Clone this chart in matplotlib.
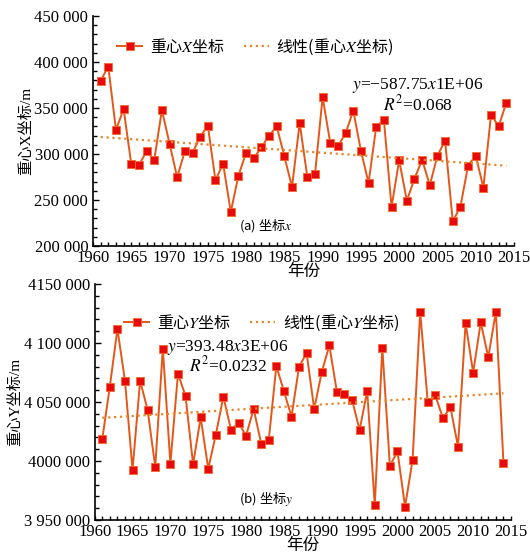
import matplotlib
matplotlib.use('Agg')
import matplotlib.pyplot as plt
import numpy as np
from matplotlib.ticker import MultipleLocator

# polices : chiffres en serif, chinois via le repli CJK
plt.rcParams['font.family'] = ['Liberation Serif', 'Noto Sans CJK SC']
plt.rcParams['mathtext.fontset'] = 'stix'
plt.rcParams['axes.unicode_minus'] = False

# données (1961-2014)
annees = list(range(1961, 2015))
coord_x = [379700, 394900, 326100, 348900, 289100, 288000, 302900, 293500, 347800, 311200,
           274600, 303300, 301100, 318800, 330800, 271400, 289500, 237000, 276400, 301400,
           295300, 307300, 319900, 330100, 297500, 264100, 333700, 275000, 277900, 362000,
           311600, 308700, 322500, 347100, 303600, 268500, 329700, 337300, 242400, 293200,
           249300, 273200, 293800, 266000, 298200, 314500, 226800, 242700, 287300, 298200,
           263400, 342700, 330100, 355800]
coord_y = [4018600, 4063000, 4111900, 4068100, 3992400, 4068100, 4042900, 3994900, 4095200, 3997700,
           4074000, 4055100, 3997200, 4037000, 3993500, 4022300, 4054500, 4026600, 4032200, 4021500,
           4044100, 4014700, 4018100, 4080500, 4059100, 4037600, 4080000, 4091300, 4044100, 4075400,
           4098000, 4058500, 4056500, 4051700, 4026300, 4059300, 3962500, 4095800, 3995800, 4008200,
           3961300, 4000800, 4126600, 4050000, 4055700, 4036400, 4045500, 4012100, 4116900, 4074900,
           4117500, 4087900, 4126600, 3998600]

ticks_x = [200000, 250000, 300000, 350000, 400000, 450000]
labels_x = ['200 000', '250 000', '300 000', '350 000', '400 000', '450 000']
ticks_y = [3950000, 4000000, 4050000, 4100000, 4150000]
labels_y = ['3 950 000', '4000 000', '4 050 000', '4 100 000', '4150 000']
annees_ticks = [1960, 1965, 1970, 1975, 1980, 1985, 1990, 1995, 2000, 2005, 2010, 2015]

couleurs = {
    'ligne': '#E4561A',
    'marqueur': '#E80A0A',
    'bord': '#F26A2C',
    'tendance': '#E8872A',
}

W, H = 530, 556
fig = plt.figure(figsize=(W / 100, H / 100), dpi=100)

# positions des axes en pixels (gauche, droite, haut, bas)
ax1 = fig.add_axes([93 / W, 1 - 246 / H, (514 - 93) / W, (246 - 16) / H])
ax2 = fig.add_axes([94.7 / W, 1 - 520 / H, (511 - 94.7) / W, (520 - 284) / H])


def tracer(ax, valeurs, nom, ticks, labels, ylim, minor, eq, r2, pos_eq, pos_leg, sous_titre, lab_x):
    x = np.array(annees)
    y = np.array(valeurs)
    ax.plot(x, y, '-s', color=couleurs['ligne'], lw=1.4, ms=5.5,
            mfc=couleurs['marqueur'], mec=couleurs['bord'], mew=0.6,
            label='重心$' + nom + '$坐标')
    a, b = np.polyfit(x, y, 1)
    ax.plot(x, a * x + b, ':', color=couleurs['tendance'], lw=1.6,
            label='线性(重心$' + nom + '$坐标)')

    ax.set_xlim(1960, 2015)
    ax.set_ylim(*ylim)
    ax.set_xticks(annees_ticks)
    ax.xaxis.set_minor_locator(MultipleLocator(1))
    ax.set_yticks(ticks, labels)
    ax.yaxis.set_minor_locator(MultipleLocator(minor))
    for s in ['top', 'right']:
        ax.spines[s].set_visible(False)
    for s in ['left', 'bottom']:
        ax.spines[s].set_linewidth(1.2)
    ax.tick_params(axis='both', which='both', direction='in', labelsize=12, width=1.0)
    ax.tick_params(axis='y', which='major', length=4)
    ax.tick_params(axis='y', which='minor', length=3)
    ax.tick_params(axis='x', which='both', length=3, pad=3)

    ax.set_xlabel('年份', fontsize=12, labelpad=-2, family='Noto Sans CJK SC')
    ax.set_ylabel('重心' + nom + '坐标/m', fontsize=11)
    ax.yaxis.set_label_coords(lab_x, 0.5)

    ax.legend(loc='center', bbox_to_anchor=pos_leg, ncol=2, frameon=False,
              prop={'family': 'Noto Sans CJK SC', 'size': 11.5},
              handlelength=1.6, columnspacing=1.2, handletextpad=0.45)
    ax.text(pos_eq[0], pos_eq[1], eq, transform=ax.transAxes, ha='center', va='center', fontsize=12.5)
    ax.text(pos_eq[0], pos_eq[2], r2, transform=ax.transAxes, ha='center', va='center', fontsize=12.5)
    ax.text(0.411, 0.09, sous_titre, transform=ax.transAxes, ha='center', va='center',
            fontsize=9.5, family='Noto Sans CJK SC')


tracer(ax1, coord_x, 'X', ticks_x, labels_x, (200000, 450000), 10000,
       r'$y$=−587.75$x$1E+06', r'$R^2$=0.068', (0.772, 0.696, 0.617),
       (0.385, 0.865), '(a) 坐标$x$', -0.143)
tracer(ax2, coord_y, 'Y', ticks_y, labels_y, (3950000, 4150000), 10000,
       r'$y$=393.48$x$3E+06', r'$R^2$=0.0232', (0.32, 0.733, 0.657),
       (0.40, 0.835), '(b) 坐标$y$', -0.175)

fig.savefig('out.png', dpi=100)
